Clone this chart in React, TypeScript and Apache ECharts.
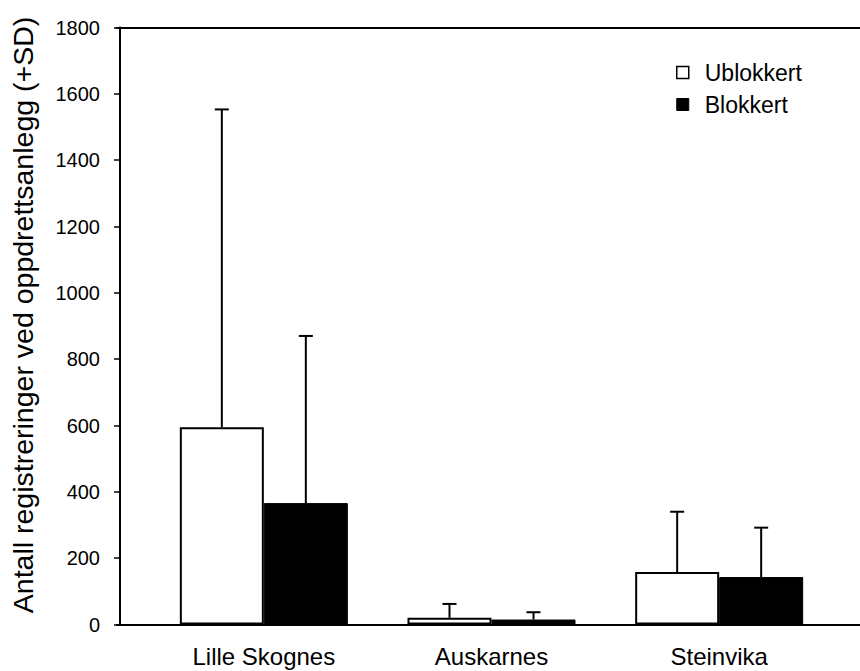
import React, { useEffect, useRef } from "react";
import * as echarts from "echarts";

const categories = ["Lille Skognes", "Auskarnes", "Steinvika"];
const ublokkertMean = [595, 20, 158];
const ublokkertTop = [1553, 62, 340];
const blokkertMean = [366, 15, 143];
const blokkertTop = [870, 37, 292];
const yTicks = { min: 0, max: 1800, interval: 200 };

const FONT = "'Liberation Sans', Arial, sans-serif";
const BAR_W = 84;

function errorSeries(name: string, means: number[], tops: number[], offset: number) {
  return {
    type: "custom",
    name,
    xAxisIndex: 0,
    yAxisIndex: 0,
    z: 5,
    silent: true,
    encode: { x: 0, y: [1, 2] },
    data: categories.map((_, i) => [i, means[i], tops[i]]),
    renderItem: (params: any, api: any) => {
      const x = api.value(0);
      const base = api.coord([x, api.value(1)]);
      const top = api.coord([x, api.value(2)]);
      const cx = base[0] + offset;
      return {
        type: "group",
        children: [
          { type: "line", shape: { x1: cx, y1: base[1], x2: cx, y2: top[1] }, style: { stroke: "#000", lineWidth: 2 } },
          { type: "line", shape: { x1: cx - 7, y1: top[1], x2: cx + 7, y2: top[1] }, style: { stroke: "#000", lineWidth: 2 } },
        ],
      };
    },
  };
}

export default function App() {
  const ref = useRef<HTMLDivElement>(null);
  useEffect(() => {
    if (!ref.current) return;
    const chart = echarts.init(ref.current, undefined, { renderer: "svg" });
    chart.setOption({
      animation: false,
      backgroundColor: "#fff",
      textStyle: { fontFamily: FONT, color: "#000" },
      grid: [
        { left: 147, right: 27, top: 27.5, bottom: 46.5 },
        { left: 117, width: 800, top: 27.5, bottom: 46.5 },
      ],
      legend: {
        orient: "vertical",
        left: 671,
        top: 56,
        itemWidth: 12,
        itemHeight: 12,
        itemGap: 9,
        icon: "rect",
        textStyle: { fontSize: 23, fontFamily: FONT, color: "#000", padding: [0, 0, 0, 11] },
        data: [
          { name: "Ublokkert", itemStyle: { color: "#fff", borderColor: "#000", borderWidth: 1.5 } },
          { name: "Blokkert", itemStyle: { color: "#000", borderColor: "#000", borderWidth: 1 } },
        ],
      },
      xAxis: [
        {
          type: "category",
          gridIndex: 0,
          data: categories,
          axisLine: { show: false },
          axisTick: { show: false },
          axisLabel: { fontSize: 24, color: "#000", fontFamily: FONT, margin: 20 },
        },
        {
          type: "value",
          gridIndex: 1,
          min: 0,
          max: 1,
          position: "bottom",
          axisLine: { show: true, onZero: false, lineStyle: { color: "#000", width: 2 } },
          axisTick: { show: false },
          axisLabel: { show: false },
          splitLine: { show: false },
        },
        {
          type: "value",
          gridIndex: 1,
          min: 0,
          max: 1,
          position: "top",
          axisLine: { show: true, onZero: false, lineStyle: { color: "#000", width: 2 } },
          axisTick: { show: false },
          axisLabel: { show: false },
          splitLine: { show: false },
        },
      ],
      yAxis: [
        {
          type: "value",
          gridIndex: 0,
          min: yTicks.min,
          max: yTicks.max,
          interval: yTicks.interval,
          offset: 30,
          name: "Antall registreringer ved oppdrettsanlegg (+SD)",
          nameLocation: "middle",
          nameGap: 83,
          nameTextStyle: { fontSize: 28.5, color: "#000", fontFamily: FONT, padding: [0, 0, 0, 22] },
          axisLine: { show: true, lineStyle: { color: "#000", width: 2 } },
          axisTick: { show: true, length: 6, lineStyle: { color: "#000", width: 1.5 } },
          axisLabel: { fontSize: 20, color: "#000", fontFamily: FONT, margin: 20, formatter: (v: number) => String(v) },
          splitLine: { show: false },
        },
        {
          type: "value",
          gridIndex: 1,
          min: 0,
          max: 1,
          show: false,
        },
      ],
      series: [
        {
          name: "Ublokkert",
          type: "bar",
          xAxisIndex: 0,
          yAxisIndex: 0,
          barWidth: BAR_W,
          barGap: "0%",
          data: ublokkertMean,
          itemStyle: { color: "#fff", borderColor: "#000", borderWidth: 2 },
        },
        {
          name: "Blokkert",
          type: "bar",
          xAxisIndex: 0,
          yAxisIndex: 0,
          barWidth: BAR_W,
          barGap: "0%",
          data: blokkertMean,
          itemStyle: { color: "#000", borderColor: "#000", borderWidth: 1 },
        },
        errorSeries("sdU", ublokkertMean, ublokkertTop, -BAR_W / 2),
        errorSeries("sdB", blokkertMean, blokkertTop, BAR_W / 2),
      ],
    });
    return () => chart.dispose();
  }, []);
  return (
    <div
      ref={ref}
      style={{ position: "fixed", left: 0, top: 0, width: 860, height: 671, background: "#fff" }}
    />
  );
}
